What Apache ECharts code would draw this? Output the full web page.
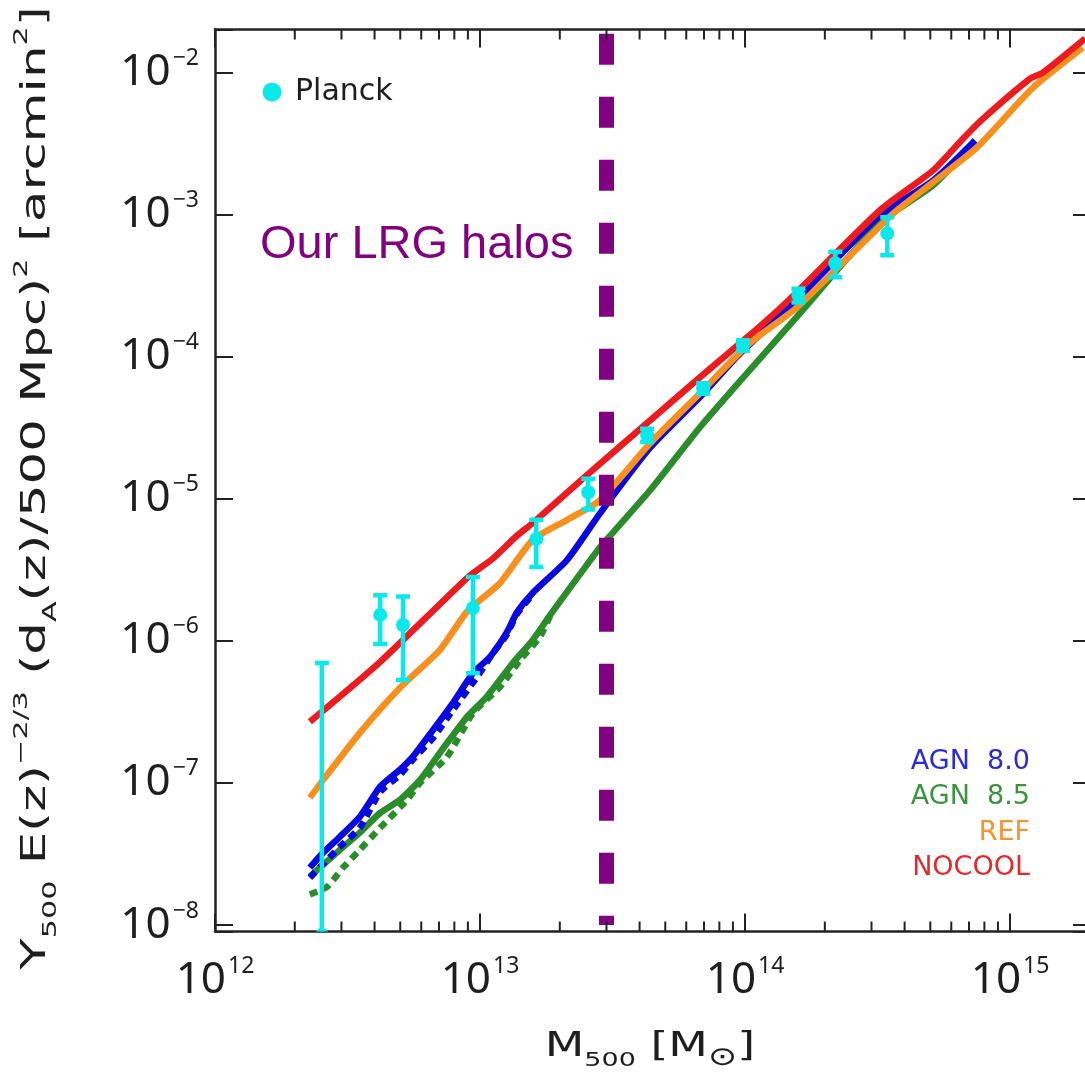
<!DOCTYPE html>
<html>
<head>
<meta charset="utf-8">
<script src="https://cdn.jsdelivr.net/npm/echarts@6/dist/echarts.min.js"></script>
<style>
  html, body { margin: 0; padding: 0; background: #ffffff; overflow: hidden; }
  #chart { width: 1085px; height: 1072px; }
</style>
</head>
<body>
<div id="chart"></div>
<script>
// Y500 E(z)^-2/3 (dA/500 Mpc)^2 [arcmin^2] against halo mass M500 [Msun]

// NOCOOL simulation
const nocoolMass = [2.28e12, 4.20e12, 8.93e12, 1.12e13, 1.38e13, 1.58e13, 2.45e13, 4.39e13, 6.76e13, 1.04e14, 1.42e14, 3.23e14, 5.12e14, 6.65e14, 7.91e14, 1.19e15, 1.33e15, 1.92e15];
const nocoolY    = [2.69e-7, 7.10e-7, 2.76e-6, 3.80e-6, 5.50e-6, 6.73e-6, 1.39e-5, 3.56e-5, 7.14e-5, 1.41e-4, 2.37e-4, 1.07e-3, 2.04e-3, 3.42e-3, 4.72e-3, 9.02e-3, 9.95e-3, 1.73e-2];

// REF simulation
const refMass = [2.28e12, 2.56e12, 3.52e12, 4.99e12, 7.06e12, 8.93e12, 1.19e13, 1.58e13, 2.13e13, 2.84e13, 4.39e13, 6.76e13, 1.04e14, 1.57e14, 3.61e14, 5.12e14, 7.50e14, 1.22e15, 1.88e15];
const refY    = [7.87e-8, 1.05e-7, 2.25e-7, 4.67e-7, 8.63e-7, 1.60e-6, 2.55e-6, 5.12e-6, 7.08e-6, 9.77e-6, 2.46e-5, 5.52e-5, 1.24e-4, 2.22e-4, 1.01e-3, 1.68e-3, 2.96e-3, 7.80e-3, 1.49e-2];

// AGN 8.0 simulation (solid and dashed variants)
const agn80Mass = [2.28e12, 2.56e12, 2.96e12, 3.52e12, 4.20e12, 4.99e12, 5.58e12, 6.65e12, 7.91e12, 9.42e12, 1.09e13, 1.26e13, 1.38e13, 1.58e13, 2.13e13, 2.84e13, 4.39e13, 6.76e13, 9.57e13, 1.52e14, 3.23e14, 5.12e14, 7.38e14];
const agn80Y    = [2.53e-8, 3.23e-8, 4.18e-8, 5.78e-8, 9.40e-8, 1.24e-7, 1.53e-7, 2.36e-7, 3.66e-7, 5.94e-7, 7.69e-7, 1.14e-6, 1.59e-6, 2.17e-6, 3.70e-6, 7.91e-6, 2.29e-5, 5.18e-5, 1.05e-4, 2.37e-4, 9.82e-4, 1.73e-3, 3.31e-3];
const agn80DashMass = [2.28e12, 2.96e12, 3.52e12, 4.20e12, 4.99e12, 5.58e12, 6.65e12, 7.91e12, 9.75e12, 1.12e13, 1.26e13, 1.38e13, 1.58e13];
const agn80DashY    = [2.15e-8, 3.56e-8, 4.83e-8, 8.65e-8, 1.14e-7, 1.46e-7, 2.07e-7, 3.27e-7, 5.57e-7, 8.22e-7, 1.10e-6, 1.55e-6, 2.12e-6];

// AGN 8.5 simulation (solid and dashed variants)
const agn85Mass = [2.28e12, 2.96e12, 3.52e12, 4.20e12, 4.99e12, 5.94e12, 7.06e12, 8.93e12, 1.06e13, 1.33e13, 1.58e13, 1.84e13, 2.45e13, 2.84e13, 4.39e13, 6.76e13, 1.04e14, 1.61e14, 3.23e14, 5.12e14, 7.38e14];
const agn85Y    = [2.19e-8, 3.38e-8, 4.46e-8, 6.15e-8, 7.60e-8, 1.05e-7, 1.63e-7, 2.91e-7, 4.03e-7, 6.98e-7, 1.01e-6, 1.52e-6, 3.15e-6, 4.56e-6, 1.15e-5, 3.18e-5, 8.00e-5, 2.01e-4, 8.77e-4, 1.60e-3, 3.31e-3];
const agn85DashMass = [2.28e12, 2.65e12, 3.04e12, 3.52e12, 4.20e12, 5.31e12, 5.94e12, 7.50e12, 9.42e12, 1.19e13, 1.42e13, 1.68e13, 1.84e13];
const agn85DashY    = [1.64e-8, 1.86e-8, 2.53e-8, 3.38e-8, 4.83e-8, 7.60e-8, 1.00e-7, 1.52e-7, 3.11e-7, 4.74e-7, 7.35e-7, 1.06e-6, 1.50e-6];

// Planck stacked measurements with 1-sigma errors
const planckMass = [2.53e12, 4.20e12, 5.12e12, 9.40e12, 1.63e13, 2.56e13, 4.27e13, 6.95e13, 9.82e13, 1.59e14, 2.19e14, 3.44e14];
const planckY    = [8.5e-9, 1.52e-6, 1.29e-6, 1.70e-6, 5.2e-6, 1.11e-5, 2.80e-5, 5.98e-5, 1.20e-4, 2.70e-4, 4.53e-4, 7.35e-4];
const planckErr  = [6.9e-7, 5.7e-7, 7.6e-7, 1.11e-6, 1.9e-6, 2.7e-6, 3.0e-6, 5.0e-6, 1.0e-5, 3.0e-5, 9.2e-5, 2.2e-4];

// Mass of the LRG host halos (vertical marker)
const lrgMass = [3.0e13, 3.0e13];
const lrgY    = [1.87e-2, 1.0e-8];

// Axis ranges and tick labels
const xRange = [1.0e12, 2.02e15];
const yRange = [9.0e-9, 2.0e-2];
const xTickExponents = [12, 13, 14, 15];
const yTickExponents = [-8, -7, -6, -5, -4, -3, -2];
const minorMass = [2e12, 3e12, 4e12, 5e12, 6e12, 7e12, 8e12, 9e12,
                   2e13, 3e13, 4e13, 5e13, 6e13, 7e13, 8e13, 9e13,
                   2e14, 3e14, 4e14, 5e14, 6e14, 7e14, 8e14, 9e14];

// Model legend entries
const modelLabels = ['AGN  8.0', 'AGN  8.5', 'REF', 'NOCOOL'];

const COLORS = {
  nocool: '#ec1b1f',
  ref: '#f7901e',
  agn80: '#0a0ae0',
  agn85: '#2a8c2a',
  planck: '#0ae8ea',
  lrg: '#800080',
  ink: '#1e1e1e'
};
const labelColors = ['#2a2ad6', '#3a943a', '#f29434', '#e4282c'];

const pairs = (xs, ys) => xs.map((x, i) => [x, ys[i]]);

function powerLabel(exponents) {
  return function (v) {
    const e = Math.log10(v);
    const r = Math.round(e);
    if (Math.abs(e - r) > 1e-6 || exponents.indexOf(r) < 0) return '';
    return '10{s|' + String(r).replace('-', '\u2212') + '}';
  };
}

const tickLabelRich = {
  s: { fontSize: 23, lineHeight: 23, fontFamily: 'Noto Sans', color: COLORS.ink, padding: [0, 0, 28, 2] }
};

function logAxis(position, range, exponents, showLabels, margin) {
  return {
    type: 'log',
    logBase: 10,
    position: position,
    min: range[0],
    max: range[1],
    axisLine: { show: true, onZero: false, lineStyle: { color: '#222', width: 2.5 } },
    axisTick: { show: true, inside: true, length: 18, lineStyle: { color: '#222', width: 2 } },
    minorTick: { show: false },
    splitLine: { show: false },
    axisLabel: {
      show: showLabels,
      margin: margin,
      formatter: powerLabel(exponents),
      fontFamily: 'Noto Sans',
      fontSize: 44,
      lineHeight: 44,
      color: COLORS.ink,
      showMinLabel: true,
      showMaxLabel: true,
      rich: tickLabelRich
    }
  };
}

function curve(name, xs, ys, color, dashed) {
  return {
    name: name,
    type: 'line',
    data: pairs(xs, ys),
    symbol: 'none',
    showSymbol: false,
    smooth: 0.2,
    clip: true,
    z: 2,
    lineStyle: { color: color, width: 6.5, type: dashed ? [8, 6] : 'solid', cap: 'butt', join: 'round' },
    emphasis: { disabled: true },
    silent: true
  };
}

const chart = echarts.init(document.getElementById('chart'), null, { renderer: 'canvas' });

const titleRich = {
  sub: { fontSize: 20, fontFamily: 'DejaVu Sans', padding: [28, 0, 0, 0] },
  sun: { fontSize: 26, fontFamily: 'DejaVu Sans', padding: [22, 0, 0, 0] },
  sup: { fontSize: 20, fontFamily: 'DejaVu Sans', padding: [0, 0, 30, 0] }
};

const graphicElements = [
  { type: 'circle', shape: { cx: 272, cy: 92, r: 9.5 }, style: { fill: COLORS.planck }, z: 100 },
  { type: 'text', x: 295, y: 92, z: 100,
    style: { text: 'Planck', fontSize: 30, fontFamily: 'DejaVu Sans', fill: COLORS.ink, align: 'left', verticalAlign: 'middle' } },
  { type: 'text', x: 260, y: 245.5, z: 100,
    style: { text: 'Our LRG halos', fontSize: 47, fontFamily: 'Liberation Sans', fill: COLORS.lrg, align: 'left', verticalAlign: 'middle' } },
  { type: 'text', x: 650, y: 1047, z: 100, scaleX: 1.35,
    style: { text: 'M{sub|500} [M{sun|\u2299}]', fontSize: 34, fontFamily: 'DejaVu Sans', fill: COLORS.ink,
             align: 'center', verticalAlign: 'middle', rich: titleRich } },
  { type: 'text', x: 36.5, y: 488, z: 100, rotation: Math.PI / 2, scaleX: 1.51,
    style: { text: 'Y{sub|500} E(z){sup|\u22122/3} (d{sub|A}(z)/500 Mpc){sup|2} [arcmin{sup|2}]',
             fontSize: 34, fontFamily: 'DejaVu Sans', fill: COLORS.ink,
             align: 'center', verticalAlign: 'middle', rich: titleRich } }
];
modelLabels.forEach((t, i) => {
  graphicElements.push({
    type: 'text', x: 1030, y: 762 + i * 35.3, z: 100,
    style: { text: t, fontSize: 27, fontFamily: 'DejaVu Sans', fill: labelColors[i], align: 'right', verticalAlign: 'middle' }
  });
});

const option = {
  animation: false,
  backgroundColor: '#ffffff',
  grid: { left: 215, top: 29.5, right: -6, bottom: 140.5, containLabel: false, outerBoundsMode: 'none' },
  xAxis: [
    logAxis('bottom', xRange, xTickExponents, true, 27),
    logAxis('top', xRange, xTickExponents, false, 8)
  ],
  yAxis: [
    logAxis('left', yRange, yTickExponents, true, 16),
    logAxis('right', yRange, yTickExponents, false, 8)
  ],
  graphic: { elements: graphicElements },
  series: [
    curve('AGN 8.5 alt', agn85DashMass, agn85DashY, COLORS.agn85, true),
    curve('AGN 8.5', agn85Mass, agn85Y, COLORS.agn85, false),
    curve('AGN 8.0 alt', agn80DashMass, agn80DashY, COLORS.agn80, true),
    curve('AGN 8.0', agn80Mass, agn80Y, COLORS.agn80, false),
    curve('REF', refMass, refY, COLORS.ref, false),
    curve('NOCOOL', nocoolMass, nocoolY, COLORS.nocool, false),
    {
      name: 'LRG halos',
      type: 'line',
      data: pairs(lrgMass, lrgY),
      symbol: 'none',
      showSymbol: false,
      clip: true,
      silent: true,
      z: 3,
      lineStyle: { color: COLORS.lrg, width: 15, type: [31, 32], cap: 'butt' }
    },
    {
      name: 'Planck',
      type: 'custom',
      clip: true,
      silent: true,
      z: 10,
      data: planckMass.map((m, i) => [m, planckY[i], planckErr[i]]),
      encode: { x: 0, y: 1 },
      renderItem: function (params, api) {
        const m = api.value(0), y = api.value(1), e = api.value(2);
        const cs = params.coordSys;
        const c = api.coord([m, y]);
        const top = api.coord([m, y + e])[1];
        const lowVal = y - e;
        const hasLow = lowVal > 0;
        const bottom = hasLow ? api.coord([m, lowVal])[1] : cs.y + cs.height + 8;
        const st = { stroke: COLORS.planck, lineWidth: 4.5 };
        const kids = [
          { type: 'line', shape: { x1: c[0], y1: top, x2: c[0], y2: bottom }, style: st },
          { type: 'line', shape: { x1: c[0] - 7, y1: top, x2: c[0] + 7, y2: top }, style: st },
          { type: 'circle', shape: { cx: c[0], cy: c[1], r: 7 }, style: { fill: COLORS.planck } }
        ];
        if (hasLow) {
          kids.push({ type: 'line', shape: { x1: c[0] - 7, y1: bottom, x2: c[0] + 7, y2: bottom }, style: st });
        }
        return { type: 'group', children: kids };
      }
    },
    {
      name: 'minor ticks',
      type: 'custom',
      silent: true,
      z: 5,
      data: minorMass.map(m => [m, 1e-5]),
      encode: { x: 0, y: 1 },
      renderItem: function (params, api) {
        const x = api.coord([api.value(0), api.value(1)])[0];
        const cs = params.coordSys;
        const st = { stroke: '#222', lineWidth: 2 };
        return {
          type: 'group',
          children: [
            { type: 'line', shape: { x1: x, y1: cs.y + cs.height, x2: x, y2: cs.y + cs.height - 10 }, style: st },
            { type: 'line', shape: { x1: x, y1: cs.y, x2: x, y2: cs.y + 10 }, style: st }
          ]
        };
      }
    }
  ]
};

chart.setOption(option);
</script>
</body>
</html>
